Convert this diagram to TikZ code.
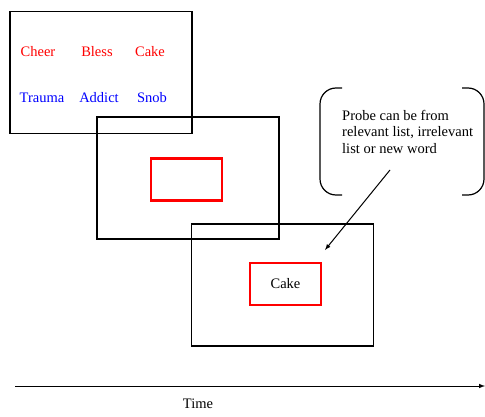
\documentclass[tikz,border=0pt]{standalone}
\usepackage{fontspec}
\setmainfont{Liberation Serif}
\usetikzlibrary{backgrounds}
\pgfdeclarelayer{edgelayer}
\pgfdeclarelayer{nodelayer}
\pgfsetlayers{edgelayer,nodelayer,main}
\tikzset{font=\fontsize{14.5}{16.5}\selectfont}
\tikzstyle{none}=[inner sep=0pt]
\tikzstyle{slide}=[draw=black,line width=1.8pt,minimum width=182pt,minimum height=122pt,inner sep=0pt]
\tikzstyle{probebox}=[draw=red,line width=2.6pt,minimum width=71pt,minimum height=42pt,inner sep=0pt]
\tikzstyle{rel}=[inner sep=0pt,text=red]
\tikzstyle{irrel}=[inner sep=0pt,text=blue]
\tikzstyle{bracket}=[line width=1.2pt,rounded corners=16pt]

\begin{document}
\begin{tikzpicture}[x=1pt,y=-1pt]
	\useasboundingbox (0,0) rectangle (485,417);
	\begin{pgfonlayer}{nodelayer}
		% study list
		\node [style=rel] (0) at (38,52) {Cheer};
		\node [style=rel] (1) at (97,52) {Bless};
		\node [style=rel] (2) at (150,52) {Cake};
		\node [style=irrel] (3) at (42,98) {Trauma};
		\node [style=irrel] (4) at (99,98) {Addict};
		\node [style=irrel] (5) at (152,98) {Snob};
		% test item
		\node [style=none] (6) at (285.5,284) {Cake};
		\node [style=none, anchor=north west, align=left] (7) at (342,110) {Probe can be from\\relevant list, irrelevant\\list or new word};
		\node [style=none] (8) at (390,170) {};
		\node [style=none] (9) at (325,250) {};
		% time line
		\node [style=none] (10) at (15,386) {};
		\node [style=none] (11) at (485,386) {};
		\node [style=none] (12) at (198,404) {Time};
	\end{pgfonlayer}
	\begin{pgfonlayer}{edgelayer}
		\node [style=slide] (13) at (101,72.5) {};
		\node [style=slide] (14) at (188,178) {};
		\node [style=slide] (15) at (282.5,285) {};
		\node [style=probebox] (16) at (186.5,179.5) {};
		\node [style=probebox] (17) at (285.5,284) {};
		\draw [style=bracket] (342,88) -- (320,88) -- (320,195) -- (342,195);
		\draw [style=bracket] (462,88) -- (484,88) -- (484,195) -- (462,195);
		\draw [line width=1pt, -latex] (8.center) to (9.center);
		\draw [line width=1pt, -latex] (10.center) to (11.center);
	\end{pgfonlayer}
\end{tikzpicture}
\end{document}
